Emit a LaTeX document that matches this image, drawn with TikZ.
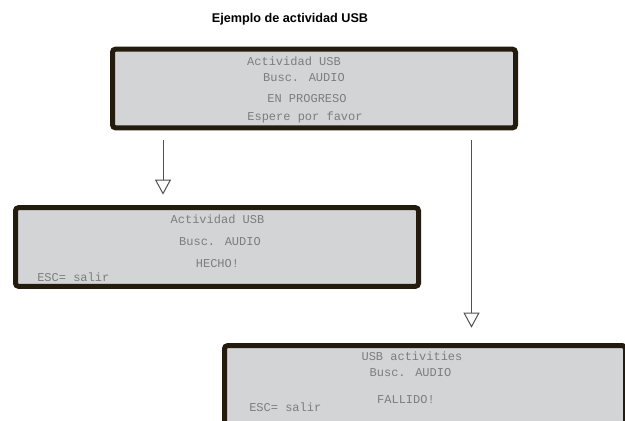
\documentclass[tikz,border=0pt]{standalone}
\usepackage{fontspec}
\setmainfont{Liberation Sans}
\newfontfamily\lcdfont{Liberation Mono}
\usetikzlibrary{arrows.meta}
\definecolor{lcdfill}{RGB}{211,212,214}
\definecolor{lcdedge}{RGB}{35,27,14}
\definecolor{lcdtext}{RGB}{125,125,125}
\definecolor{flowcol}{RGB}{80,80,80}
\tikzset{
  capt/.style={font=\fontsize{9.5}{11}\selectfont\bfseries,anchor=base},
  lcd/.style={draw=lcdedge,fill=lcdfill,line width=3.75pt,rounded corners=2.25pt,inner sep=0pt,minimum height=59pt},
  row/.style={font=\lcdfont\fontsize{9}{10}\selectfont,text=lcdtext,anchor=base,inner sep=0pt},
  rowl/.style={row,anchor=base west},
  flow/.style={draw=flowcol,line width=0.75pt,-{Triangle[open,length=11.25pt,width=12pt]}},
}
\begin{document}
\begin{tikzpicture}[x=0.75pt,y=-0.75pt]
  \useasboundingbox (0,0) rectangle (625,421);
  \clip (0,0) rectangle (625,421);
  \node[capt] (title) at (290,22) {Ejemplo de actividad USB};
  \node[lcd,minimum width=302.25pt] (b1) at (314,88.5) {};
  \node[row] (b1r1) at (294,65) {Actividad USB};
  \node[row] (b1r2) at (304,81) {Busc. AUDIO};
  \node[row] (b1r3) at (307,102) {EN PROGRESO};
  \node[row] (b1r4) at (305,120) {Espere por favor};
  \node[lcd,minimum width=302.25pt] (b2) at (217,247) {};
  \node[row] (b2r1) at (217.5,223) {Actividad USB};
  \node[row] (b2r2) at (220,245) {Busc. AUDIO};
  \node[row] (b2r3) at (217.5,267) {HECHO!};
  \node[rowl] (b2r4) at (37,281) {ESC= salir};
  \node[lcd,minimum width=300.75pt] (b3) at (425,385) {};
  \node[row] (b3r1) at (412,360) {USB activities};
  \node[row] (b3r2) at (410.5,376) {Busc. AUDIO};
  \node[row] (b3r3) at (406,403) {FALLIDO!};
  \node[rowl] (b3r4) at (249,411) {ESC= salir};
  \coordinate (c1) at (163,0);
  \coordinate (c2) at (471.5,0);
  \draw[flow,shorten <=7.1pt,shorten >=7.9pt] (b1.south -| c1) -- (b2.north -| c1);
  \draw[flow,shorten <=7.1pt,shorten >=11.6pt] (b1.south -| c2) -- (b3.north -| c2);
\end{tikzpicture}
\end{document}
